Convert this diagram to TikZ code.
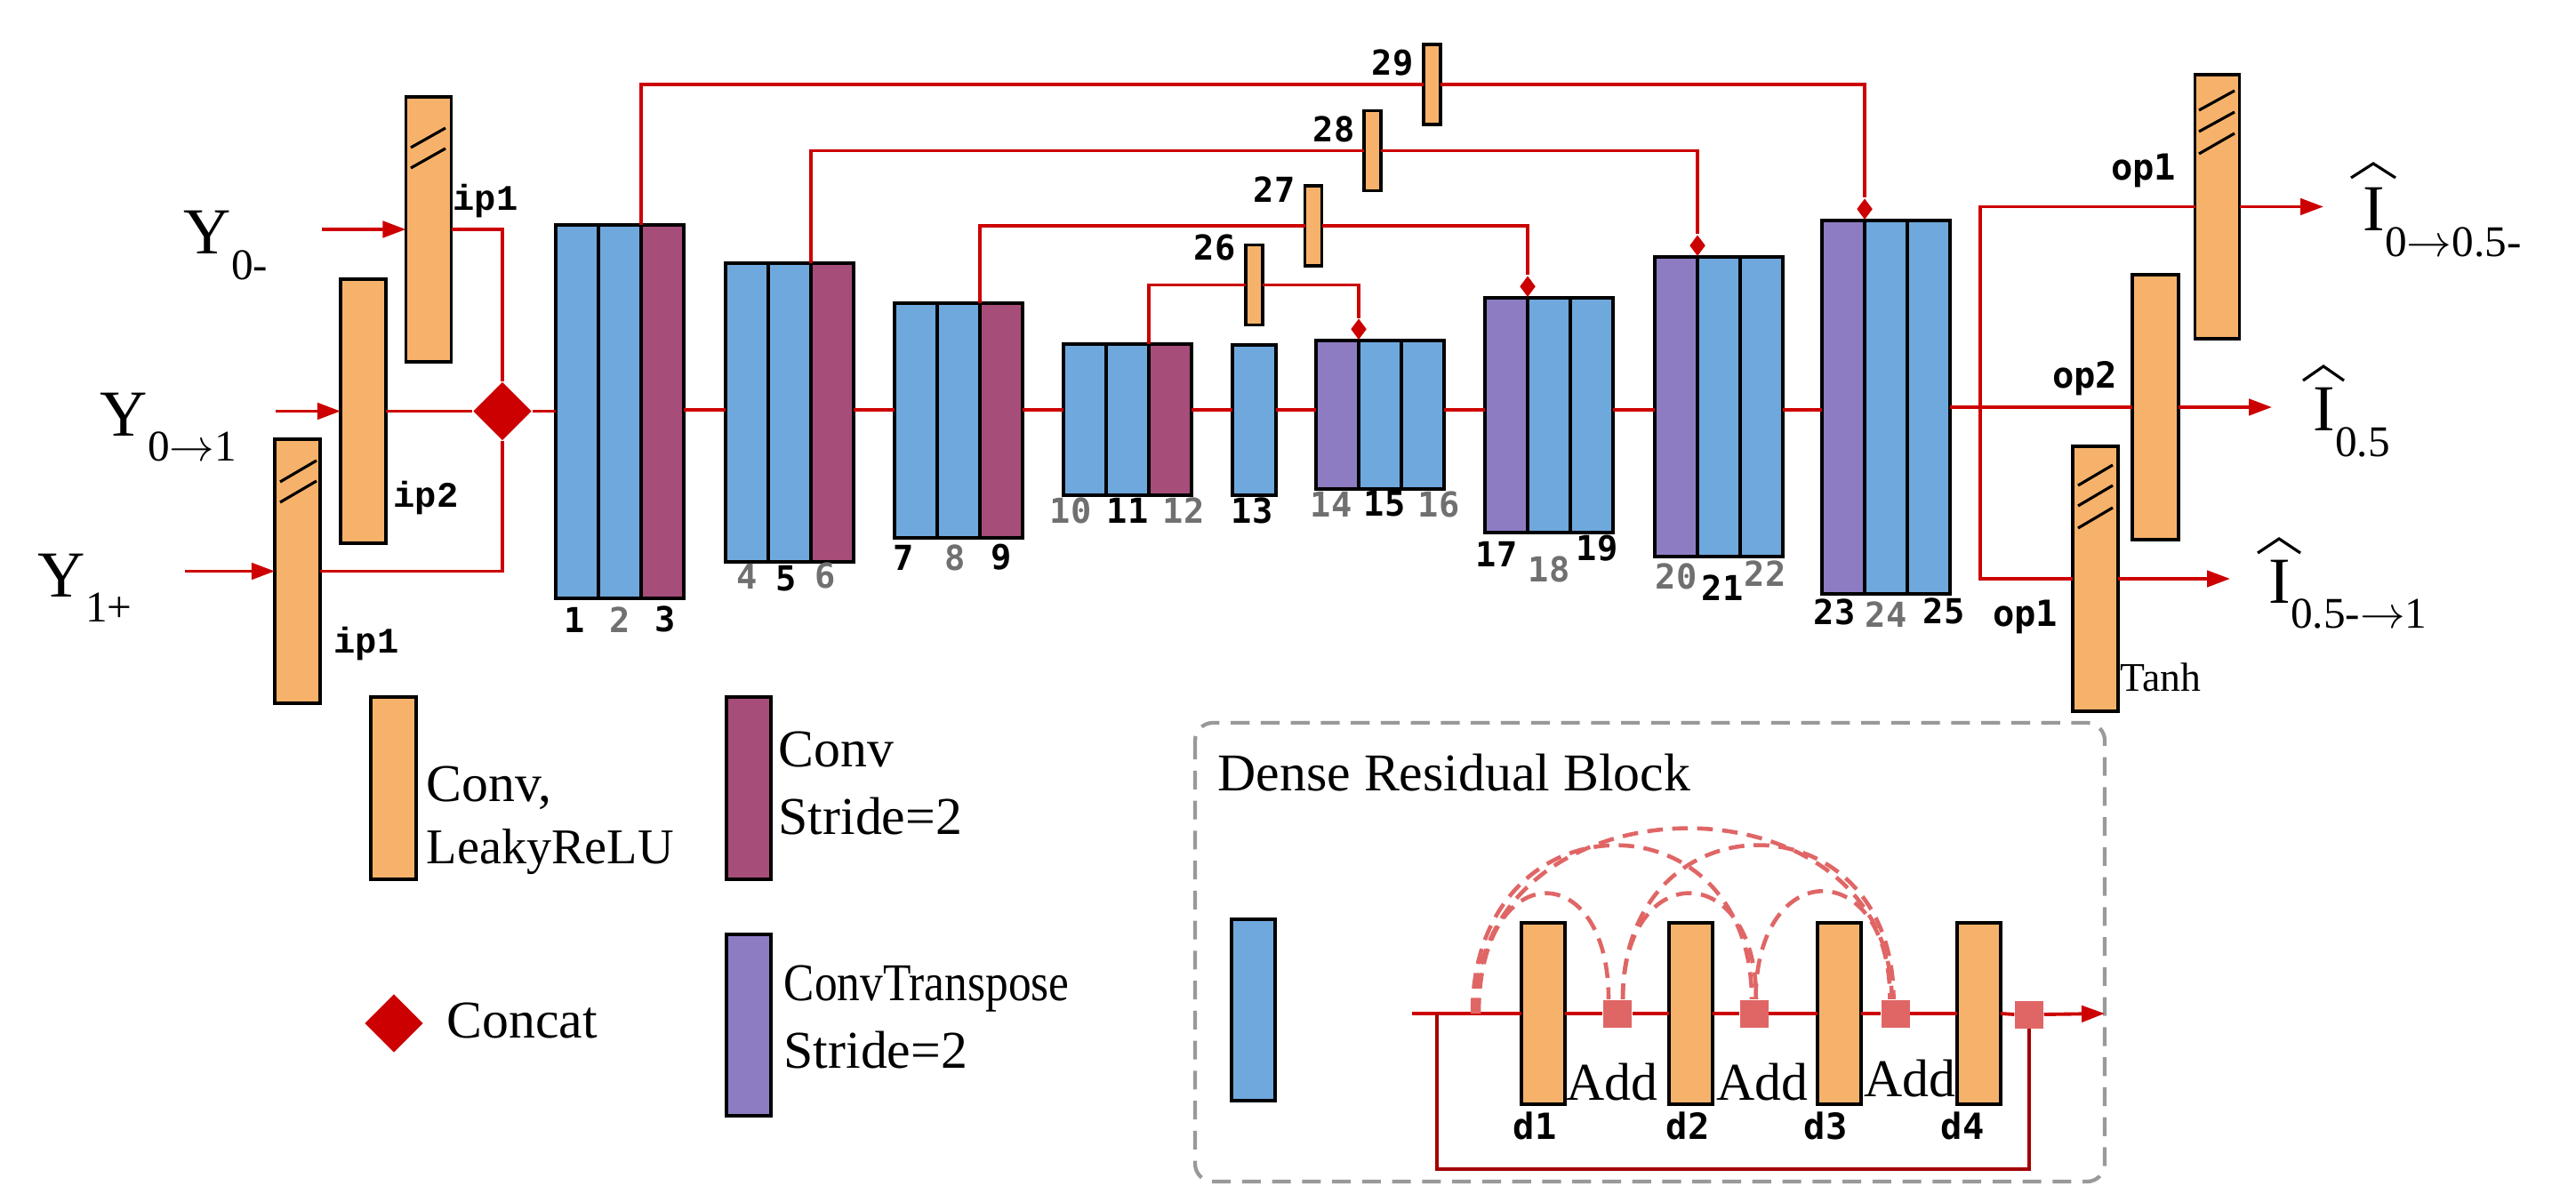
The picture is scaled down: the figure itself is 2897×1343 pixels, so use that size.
\documentclass[tikz,border=0pt]{standalone}
\usepackage{fontspec}
\usepackage{graphicx}
\setmainfont{Liberation Serif}
\newfontfamily\ipfont{Liberation Mono}
\newfontfamily\numfont{DejaVu Sans Mono}
\usetikzlibrary{shapes.geometric,arrows.meta,positioning}

\definecolor{convblue}{HTML}{6FA8DC}
\definecolor{convstride}{HTML}{A64D79}
\definecolor{convtrans}{HTML}{8E7CC3}
\definecolor{convorange}{HTML}{F6B26B}
\definecolor{linered}{HTML}{CC0000}
\definecolor{addred}{HTML}{E06666}
\definecolor{numgray}{HTML}{707070}
\definecolor{boxgray}{HTML}{999999}

% big letter with a lowered subscript
\newcommand{\bigsub}[2]{#1\raisebox{-0.39em}{\fontsize{14}{14}\selectfont #2}}
\newcommand{\goesto}{\(\mathord{\rightarrow}\)}

\tikzset{
  blk/.style={draw, line width=1.1pt, inner sep=0pt, outer sep=0pt, minimum width=0.48cm},
  cbl/.style={blk, fill=convblue},
  cst/.style={blk, fill=convstride},
  ctr/.style={blk, fill=convtrans},
  orb/.style={blk, fill=convorange, minimum width=0.51cm, minimum height=2.97cm},
  skipbox/.style={blk, fill=convorange, minimum width=0.19cm, minimum height=0.9cm},
  conn/.style={draw=linered, line width=1.1pt},
  arr/.style={conn, -{Triangle[length=7.4pt,width=5.2pt]}},
  cat/.style={diamond, fill=linered, inner sep=0pt, minimum width=0.66cm, minimum height=0.66cm},
  tip/.style={diamond, fill=linered, inner sep=0pt, minimum width=0.18cm, minimum height=0.24cm},
  num/.style={font=\numfont\bfseries\fontsize{11}{11}\selectfont, inner sep=0pt},
  gnum/.style={num, text=numgray},
  iplbl/.style={font=\ipfont\bfseries\fontsize{11.5}{11.5}\selectfont, inner sep=0pt},
  oplbl/.style={font=\numfont\bfseries\fontsize{11.5}{11.5}\selectfont, inner sep=0pt},
  big/.style={font=\fontsize{21}{21}\selectfont, inner sep=0pt, anchor=base west},
  leg/.style={font=\fontsize{17}{17}\selectfont, inner sep=0pt, anchor=base west},
  addsq/.style={fill=addred, inner sep=0pt, minimum width=0.32cm, minimum height=0.31cm},
  dense/.style={draw=addred, line width=1.3pt, dash pattern=on 5pt off 3pt},
  hat/.style={draw, line width=0.9pt},
}

\begin{document}
\begin{tikzpicture}[x=0.01cm, y=-0.01cm]
\useasboundingbox (0,0) rectangle (2897,1343);

% inputs
\node[orb] (ipa) at (482,258) {};
\node[orb] (ipb) at (408.5,462.5) {};
\node[orb] (ipc) at (334.5,642.5) {};
\draw[hat] (462,166) -- (501,144);
\draw[hat] (462,189) -- (501,167);
\draw[hat] (315,542) -- (356,518);
\draw[hat] (315,565) -- (356,541);
\node[iplbl, anchor=west] (ipal) at (509,226) {ip1};
\node[iplbl, anchor=west] (ipbl) at (442,560) {ip2};
\node[iplbl, anchor=west] (ipcl) at (375,724) {ip1};

\node[big] (ya) at (206,286) {\bigsub{Y}{0-}};
\node[big] (yb) at (112,490) {\bigsub{Y}{0\goesto1}};
\node[big] (yc) at (42,671) {\bigsub{Y}{1+}};
\coordinate (yatail) at (362,258);
\coordinate (ybtail) at (310,462.5);
\coordinate (yctail) at (208,642.5);
\draw[arr] (yatail) -- (ipa.west);
\draw[arr] (ybtail) -- (ipb.west);
\draw[arr] (yctail) -- (ipc.west);

\node[cat] (cat) at (565,462.5) {};
\draw[conn] (ipa.east) -| (cat.north);
\draw[conn] (ipb.east) -- (cat.west);
\draw[conn] (ipc.east) -| (cat.south);

% encoder
\node[cbl, minimum height=4.2cm] (b1) at (649,463) {};
\node[cbl, minimum height=4.2cm] (b2) at (697,463) {};
\node[cst, minimum height=4.2cm] (b3) at (745,463) {};
\node[cbl, minimum height=3.36cm] (b4) at (840,464) {};
\node[cbl, minimum height=3.36cm] (b5) at (888,464) {};
\node[cst, minimum height=3.36cm] (b6) at (936,464) {};
\node[cbl, minimum height=2.64cm] (b7) at (1030,473) {};
\node[cbl, minimum height=2.64cm] (b8) at (1078,473) {};
\node[cst, minimum height=2.64cm] (b9) at (1126,473) {};
\node[cbl, minimum height=1.7cm] (b10) at (1220,472) {};
\node[cbl, minimum height=1.7cm] (b11) at (1268,472) {};
\node[cst, minimum height=1.7cm] (b12) at (1316,472) {};
\node[cbl, minimum width=0.49cm, minimum height=1.69cm] (b13) at (1410.5,472.5) {};
% decoder
\node[ctr, minimum height=1.67cm] (b14) at (1504,466.5) {};
\node[cbl, minimum height=1.67cm] (b15) at (1552,466.5) {};
\node[cbl, minimum height=1.67cm] (b16) at (1600,466.5) {};
\node[ctr, minimum height=2.64cm] (b17) at (1694,467) {};
\node[cbl, minimum height=2.64cm] (b18) at (1742,467) {};
\node[cbl, minimum height=2.64cm] (b19) at (1790,467) {};
\node[ctr, minimum height=3.37cm] (b20) at (1885,457.5) {};
\node[cbl, minimum height=3.37cm] (b21) at (1933,457.5) {};
\node[cbl, minimum height=3.37cm] (b22) at (1981,457.5) {};
\node[ctr, minimum height=4.2cm] (b23) at (2073,458) {};
\node[cbl, minimum height=4.2cm] (b24) at (2121,458) {};
\node[cbl, minimum height=4.2cm] (b25) at (2169,458) {};

\node[num] (n1) at (646,697) {1};
\node[gnum] (n2) at (697,697) {2};
\node[num] (n3) at (748,696) {3};
\node[gnum] (n4) at (840,648) {4};
\node[num] (n5) at (884,651) {5};
\node[gnum] (n6) at (928,647) {6};
\node[num] (n7) at (1016,627) {7};
\node[gnum] (n8) at (1074,627) {8};
\node[num] (n9) at (1126,627) {9};
\node[gnum] (n10) at (1204,574) {10};
\node[num] (n11) at (1268,574) {11};
\node[gnum] (n12) at (1331,574) {12};
\node[num] (n13) at (1408,574) {13};
\node[gnum] (n14) at (1497,567) {14};
\node[num] (n15) at (1557,567) {15};
\node[gnum] (n16) at (1618,567) {16};
\node[num] (n17) at (1683,623) {17};
\node[gnum] (n18) at (1742,640) {18};
\node[num] (n19) at (1796,617) {19};
\node[gnum] (n20) at (1885,648) {20};
\node[num] (n21) at (1937,661) {21};
\node[gnum] (n22) at (1985,645) {22};
\node[num] (n23) at (2063,688) {23};
\node[gnum] (n24) at (2121,691) {24};
\node[num] (n25) at (2186,687) {25};

% main line
\coordinate (ml) at (0,461);
\draw[conn] (cat.east) -- (b1.west |- cat.east);
\draw[conn] (b3.east |- ml) -- (b4.west |- ml);
\draw[conn] (b6.east |- ml) -- (b7.west |- ml);
\draw[conn] (b9.east |- ml) -- (b10.west |- ml);
\draw[conn] (b12.east |- ml) -- (b13.west |- ml);
\draw[conn] (b13.east |- ml) -- (b14.west |- ml);
\draw[conn] (b16.east |- ml) -- (b17.west |- ml);
\draw[conn] (b19.east |- ml) -- (b20.west |- ml);
\draw[conn] (b22.east |- ml) -- (b23.west |- ml);

% skip connections
\node[skipbox] (s26) at (1410.5,320.5) {};
\node[skipbox] (s27) at (1477,254) {};
\node[skipbox] (s28) at (1543.5,169.5) {};
\node[skipbox] (s29) at (1610.5,95) {};
\node[num] (n26) at (1366,278) {26};
\node[num] (n27) at (1433,213) {27};
\node[num] (n28) at (1500,145) {28};
\node[num] (n29) at (1566,71) {29};
\node[tip, anchor=south] (t14) at (b14.north east) {};
\node[tip, anchor=south] (t17) at (b17.north east) {};
\node[tip, anchor=south] (t20) at (b20.north east) {};
\node[tip, anchor=south] (t23) at (b23.north east) {};
\draw[conn] (b12.north west) |- (s26.west);
\draw[conn] (s26.east) -| (t14.north);
\draw[conn] (b9.north west) |- (s27.west);
\draw[conn] (s27.east) -| (t17.north);
\draw[conn] (b6.north west) |- (s28.west);
\draw[conn] (s28.east) -| (t20.north);
\draw[conn] (b3.north west) |- (s29.west);
\draw[conn] (s29.east) -| (t23.north);

% outputs
\node[orb, minimum width=0.5cm] (opa) at (2493.5,232.5) {};
\node[orb, minimum width=0.52cm] (opb) at (2424,458) {};
\node[orb] (opc) at (2356.5,651) {};
\draw[hat] (2473,124) -- (2513,102);
\draw[hat] (2473,148) -- (2513,126);
\draw[hat] (2473,173) -- (2513,150);
\draw[hat] (2337,546) -- (2376,523);
\draw[hat] (2337,569) -- (2376,546);
\draw[hat] (2337,594) -- (2376,571);
\node[oplbl, anchor=east] (opal) at (2448,192) {op1};
\node[oplbl, anchor=east] (opbl) at (2382,426) {op2};
\node[oplbl, anchor=east] (opcl) at (2315,694) {op1};
\node[font=\fontsize{13}{13}\selectfont, inner sep=0pt, anchor=west] (tanh) at (2384,762) {Tanh};

\coordinate (osplit) at (2227,458);
\draw[conn] (b25.east) -- (opb.west);
\draw[conn] (opa.west) -| (osplit) |- (opc.west);
\coordinate (oatip) at (2613,232.5);
\coordinate (obtip) at (2555,458);
\coordinate (octip) at (2508,651);
\draw[arr] (opa.east) -- (oatip);
\draw[arr] (opb.east) -- (obtip);
\draw[arr] (opc.east) -- (octip);
\node[big] (ia) at (2657,260) {\bigsub{I}{0\goesto0.5-}};
\node[big] (ib) at (2601,485) {\bigsub{I}{0.5}};
\node[big] (ic) at (2551,678) {\bigsub{I}{0.5-\goesto1}};
\draw[hat] (2644,200) -- (2669,184) -- (2694,200);
\draw[hat] (2590,428) -- (2613,412) -- (2636,428);
\draw[hat] (2539,622) -- (2563,606) -- (2587,622);

% legend
\node[orb, minimum height=2.05cm] (lgconv) at (442.5,886.5) {};
\node[cst, minimum width=0.5cm, minimum height=2.05cm] (lgstride) at (842,886.5) {};
\node[ctr, minimum width=0.5cm, minimum height=2.04cm] (lgtrans) at (842,1153) {};
\node[cat] (lgcat) at (443,1151) {};
\node[leg] (lgconvt) at (479,901) {Conv,};
\node[leg, font=\fontsize{16}{16}\selectfont] (lgleaky) at (479,971) {LeakyReLU};
\node[leg] (lgstridet) at (875,862) {Conv};
\node[leg] (lgstrides) at (875,938) {Stride=2};
\node[leg] (lgcatt) at (502,1167) {Concat};
\node[leg] (lgtranst) at (881,1125) {\scalebox{0.86}[1]{ConvTranspose}};
\node[leg] (lgtranss) at (881,1201) {Stride=2};

% dense residual block
\draw[boxgray, line width=1.2pt, dash pattern=on 6pt off 3.6pt, rounded corners=0.2cm] (1344,813) rectangle (2367,1329);
\node[leg] (drbt) at (1369,889) {Dense Residual Block};
\node[cbl, minimum width=0.49cm, minimum height=2.04cm] (drbblk) at (1409.5,1136) {};
\node[orb, minimum width=0.49cm, minimum height=2.04cm] (d1) at (1735.5,1140) {};
\node[orb, minimum width=0.49cm, minimum height=2.04cm] (d2) at (1901.5,1140) {};
\node[orb, minimum width=0.49cm, minimum height=2.04cm] (d3) at (2068.5,1140) {};
\node[orb, minimum width=0.49cm, minimum height=2.04cm] (d4) at (2225.5,1140) {};
\node[addsq] (sq1) at (1819,1140) {};
\node[addsq] (sq2) at (1972.5,1140) {};
\node[addsq] (sq3) at (2131.5,1140) {};
\node[addsq] (sq4) at (2282,1141) {};
\node[oplbl] (d1l) at (1726,1266) {d1};
\node[oplbl] (d2l) at (1898,1266) {d2};
\node[oplbl] (d3l) at (2053,1266) {d3};
\node[oplbl] (d4l) at (2207,1266) {d4};
\node[leg, anchor=base] (add1) at (1813,1237) {Add};
\node[leg, anchor=base] (add2) at (1982,1237) {Add};
\node[leg, anchor=base] (add3) at (2148,1233) {Add};

\coordinate (din) at (1588,1140);
\coordinate (dsplit) at (1616,1140);
\coordinate (dout) at (2367,1140);
\draw[conn] (din) -- (d1.west);
\draw[conn] (d1.east) -- (sq1.west);
\draw[conn] (sq1.east) -- (d2.west);
\draw[conn] (d2.east) -- (sq2.west);
\draw[conn] (sq2.east) -- (d3.west);
\draw[conn] (d3.east) -- (sq3.west);
\draw[conn] (sq3.east) -- (d4.west);
\draw[conn] (d4.east) -- (sq4.west);
\draw[arr] (sq4.east) -- (dout);
\draw[draw=linered!80!black, line width=1pt] (dsplit) -- ++(0,175) -| (sq4.south);

% dense links
\coordinate (ka) at (1663,1140);
\coordinate (kb) at (1656,1140);
\coordinate (kc) at (1659,1140);
\draw[dense] (ka) .. controls +(0,-177) and +(0,-162) .. ([xshift=-0.1cm]sq1.north);
\draw[dense] (kb) .. controls +(0,-249) and +(0,-234) .. ([xshift=-0.025cm]sq2.north);
\draw[dense] (kc) .. controls +(0,-275) and +(0,-259) .. ([xshift=-0.04cm]sq3.north);
\draw[dense] ([xshift=0.06cm]sq1.north) .. controls +(0,-159) and +(0,-159) .. ([xshift=0.025cm]sq2.north);
\draw[dense] ([xshift=0.06cm]sq1.north) .. controls +(0,-231) and +(0,-231) .. ([xshift=-0.02cm]sq3.north);
\draw[dense] ([xshift=0.02cm]sq2.north) .. controls +(0,-162) and +(0,-162) .. ([xshift=-0.06cm]sq3.north);
\end{tikzpicture}
\end{document}
